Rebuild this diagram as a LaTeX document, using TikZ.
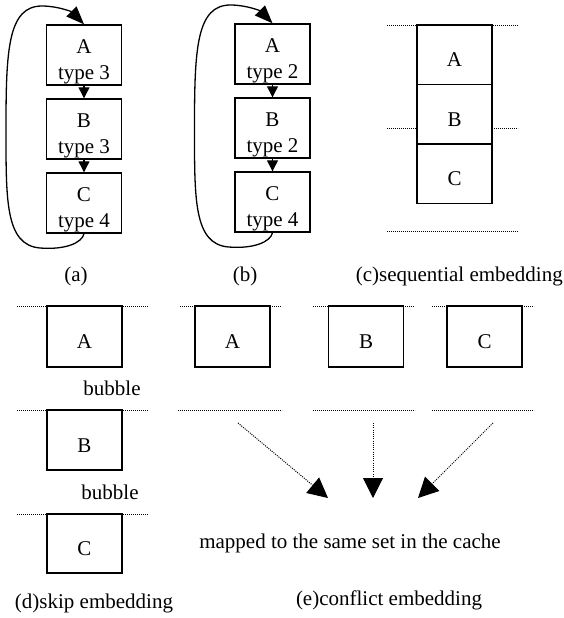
\documentclass[tikz,border=0pt]{standalone}
\usepackage{fontspec}
\setmainfont{Liberation Serif}
\usetikzlibrary{arrows.meta}

\begin{document}
\begin{tikzpicture}[x=1pt,y=-1pt,
  font=\fontsize{21}{26}\selectfont,
  box/.style={draw, line width=1.4pt, minimum width=75pt, minimum height=60pt,
              inner sep=0pt, align=center, text height=24pt, text depth=0pt},
  tall/.style={box, text height=48pt, text depth=0pt},
  tbox/.style={box, minimum height=59.5pt},
  small/.style={line width=1.2pt, -{Triangle[length=11pt,width=11pt]}},
  loopback/.style={line width=1.3pt, -{Triangle[length=18pt,width=14pt]}},
  slot/.style={line width=0.9pt, dash pattern=on 0.9pt off 1.1pt},
  conflict/.style={line width=1pt, dash pattern=on 1pt off 1.2pt,
                   -{Triangle[length=20pt,width=20pt]}},
  caption/.style={inner sep=0pt}
]
\useasboundingbox (0,0) rectangle (564,618);

% (a) loop with two type-3 blocks
\node[tall] (a1) at (84,55)  {A\\type 3};
\node[tall] (a2) at (84,129) {B\\type 3};
\node[tall] (a3) at (84,203) {C\\type 4};
\draw[small] (a1.south) -- (a2.north);
\draw[small] (a2.south) -- (a3.north);
\draw[loopback] (a3.south) .. controls (82,243) and (65,250) .. (40,248)
  .. controls (5,245) and (6,200) .. (6,127)
  .. controls (6,50) and (8,6) .. (42,6)
  .. controls (58,6) and (72,12) .. (a1.north);
\node[caption] (capa) at (76,276) {(a)};

% (b) loop with two type-2 blocks
\node[tall] (b1) at (272.5,54)  {A\\type 2};
\node[tall] (b2) at (272.5,128) {B\\type 2};
\node[tall] (b3) at (272.5,202) {C\\type 4};
\draw[small] (b1.south) -- (b2.north);
\draw[small] (b2.south) -- (b3.north);
\draw[loopback] (b3.south) .. controls (270.5,242) and (253.5,249) .. (228.5,247)
  .. controls (193.5,244) and (194.5,199) .. (194.5,126)
  .. controls (194.5,49) and (196.5,5) .. (230.5,5)
  .. controls (246.5,5) and (260.5,11) .. (b1.north);
\node[caption] (capb) at (245,276) {(b)};

% (c) sequential embedding
\draw[slot] (387,25) -- (518,25);
\draw[slot] (387,128) -- (417,128);
\draw[slot] (492,128) -- (518,128);
\draw[slot] (387,231) -- (518,231);
\node[tbox] (c1) at (454.5,54.75)  {A};
\node[tbox] (c2) at (454.5,114.25) {B};
\node[tbox] (c3) at (454.5,173.75) {C};
\node[caption, anchor=east] (capc) at (563,276) {(c)sequential embedding};

% (d) skip embedding
\draw[slot] (17,306) -- (148,306);
\draw[slot] (17,410) -- (148,410);
\draw[slot] (17,514) -- (148,514);
\node[box, minimum height=61pt] (d1) at (84.5,336.5) {A};
\node[box] (d2) at (84.5,440) {B};
\node[box, minimum height=59pt] (d3) at (84.5,543.5) {C};
\node[caption] (bub1) at (112,388) {bubble};
\node[caption] (bub2) at (110,492) {bubble};
\node[caption] (capd) at (94,603) {(d)skip embedding};

% (e) conflict embedding
\draw[slot] (180,306) -- (281,306);
\draw[slot] (313,306) -- (414,306);
\draw[slot] (432,306) -- (534,306);
\draw[slot] (178,410) -- (282,410);
\draw[slot] (313,410) -- (415,410);
\draw[slot] (432,410) -- (534,410);
\node[box, minimum height=61pt, line width=1.8pt] (e1) at (232.5,336.5) {A};
\node[box, minimum height=61pt] (e2) at (366,336.5) {B};
\node[box, minimum height=61pt] (e3) at (484.5,336.5) {C};
\coordinate (s1) at (238,423);
\coordinate (s2) at (373,423);
\coordinate (s3) at (493,423);
\coordinate (t1) at (328,498);
\coordinate (t2) at (373,498);
\coordinate (t3) at (418,498);
\draw[conflict] (s1) -- (t1);
\draw[conflict] (s2) -- (t2);
\draw[conflict] (s3) -- (t3);
\node[caption] (same) at (350,543) {mapped to the same set in the cache};
\node[caption] (cape) at (389,600) {(e)conflict embedding};
\end{tikzpicture}
\end{document}
